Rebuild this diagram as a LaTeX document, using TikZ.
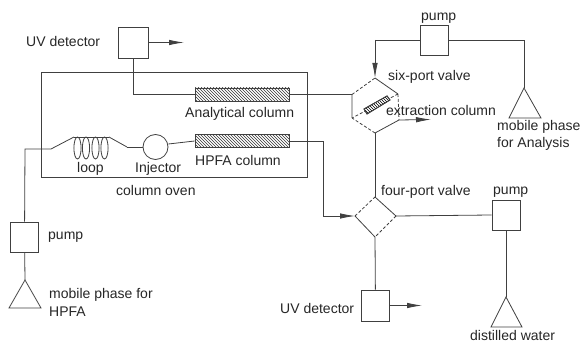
\documentclass[tikz,border=0pt]{standalone}
\usepackage{fontspec}
\setmainfont{Liberation Sans}
\usetikzlibrary{arrows.meta,patterns}
\tikzset{
  x=1pt,y=-1pt,
  ln/.style={draw=black!75,line width=0.8pt},
  flow/.style={ln,-{Latex[length=15pt,width=5.5pt]}},
  unit/.style={draw=black!75,line width=0.8pt,fill=white,minimum width=28pt,minimum height=30pt,inner sep=0pt},
  tri/.style={ln,fill=white},
  col/.style={draw=black!75,line width=0.7pt,pattern=north west lines,pattern color=black!80,minimum width=94pt,minimum height=13pt,inner sep=0pt},
  lab/.style={anchor=west,inner sep=0pt,font=\fontsize{14}{16}\selectfont,text=black!85,align=left},
  dsh/.style={ln,densely dashed}
}
\begin{document}
\begin{tikzpicture}
\useasboundingbox (0,0) rectangle (582,342);
% oven
\draw[ln] (41,72) rectangle (307,177);
\node[lab] (t1) at (26,41) {UV detector};
\node[unit,minimum width=30pt,minimum height=31pt] (uv1) at (133,42.5) {};
\coordinate (uv1e) at (184,42.5);
\draw[flow] (uv1) -- (uv1e);
\node[col] (ac) at (242,94.5) {};
\node[lab] (t2) at (185,114) {Analytical column};
\node[col] (hc) at (242,141) {};
\node[lab] (t3) at (195,160) {HPFA column};
\node[draw=black!75,line width=.8pt,circle,minimum size=25pt,inner sep=0pt] (inj) at (155.5,147) {};
\node[lab] (t4) at (135,169) {Injector};
\node[lab] (t5) at (77,169) {loop};
\node[lab] (t6) at (116,190) {column oven};
% loop
\coordinate (lpa) at (51,149);
\coordinate (lpb) at (74,137);
\coordinate (lpc) at (109,137);
\coordinate (lpd) at (127,147);
\foreach \cx in {77.5,86,95.5,104.5}{\draw[ln] (\cx,148) ellipse (3.6pt and 11pt);}
\draw[ln] (lpb) -- (lpc);
% valves
\coordinate (s1) at (375,78);
\coordinate (s2) at (398,94);
\coordinate (s3) at (399,120);
\coordinate (s4) at (375,133);
\coordinate (s5) at (352,118);
\coordinate (s6) at (352,94.5);
\draw[ln] (s1)--(s2) (s3)--(s4) (s5)--(s6);
\draw[dsh] (s6)--(s1) (s4)--(s5) (s2)--(s5) (s2)--(s3);
\draw[ln,fill=white] (364,109) -- (387,96) -- (390,100) -- (367,114) -- cycle;
\draw[ln,pattern=north west lines] (364,109) -- (387,96) -- (390,100) -- (367,114) -- cycle;
\node[lab] (t7) at (388,77) {six-port valve};
\node[lab] (t8) at (386,110) {extraction column};
\coordinate (d1) at (375,197);
\coordinate (d2) at (396,216);
\coordinate (d3) at (375,237);
\coordinate (d4) at (355,216);
\draw[ln] (d1)--(d2) (d3)--(d4);
\draw[dsh] (d4)--(d1) (d2)--(d3);
\node[lab] (t9) at (381,192) {four-port valve};
% pumps
\node[unit] (p1) at (434,40) {};
\node[lab] (t10) at (421,18) {pump};
\coordinate (p1a) at (375,40);
\draw[ln] (p1.west) -- (p1a);
\draw[flow] (p1a) -- (s1);
\coordinate (tr1) at (524,88);
\coordinate (p1b) at (524,40);
\draw[ln] (p1.east) -- (p1b) -- (tr1);
\draw[tri] (tr1) -- (541,118) -- (509,118) -- cycle;
\node[lab] (t11) at (497,127) {mobile phase};
\node[lab] (t12) at (497,144) {for Analysis};
\draw[flow] (s3) -- (431,119.5);
\node[unit] (p2) at (506,215) {};
\node[lab] (t13) at (493,192) {pump};
\draw[ln] (d2) -- (p2.west);
\coordinate (tr2) at (506,297);
\draw[ln] (p2.south) -- (tr2);
\draw[tri] (tr2) -- (522,327) -- (491,327) -- cycle;
\node[lab] (t14) at (470,335) {distilled water};
\node[unit,minimum height=31pt] (uv2) at (375.5,305.5) {};
\node[lab] (t15) at (280,308) {UV detector};
\coordinate (uv2e) at (422,305.5);
\draw[flow] (uv2) -- (uv2e);
\draw[ln] (s4) -- (d1);
\draw[ln] (d3) -- (uv2);
% connectors
\coordinate (c1) at (133,94.5);
\draw[ln] (uv1) -- (c1) -- (ac.west);
\draw[ln] (ac.east) -- (s6);
\draw[ln] (lpd) -- (143,147);
\draw[ln] (lpc) -- (lpd);
\draw[ln] (inj.east) ++(0,-3) -- (hc.west);
\coordinate (c2) at (323,141);
\coordinate (c3) at (323,216);
\draw[ln] (hc.east) -- (c2) -- (c3);
\draw[flow] (c3) -- (d4);
\node[unit] (p3) at (24.5,237) {};
\node[lab] (t16) at (48,237) {pump};
\coordinate (c4) at (25,149);
\draw[ln] (p3) -- (c4) -- (lpa) -- (lpb);
\coordinate (tr3) at (25,280);
\draw[ln] (p3) -- (tr3);
\draw[tri] (tr3) -- (41,308) -- (9,308) -- cycle;
\node[lab] (t17) at (49,295) {mobile phase for};
\node[lab] (t18) at (49,312) {HPFA};
\end{tikzpicture}
\end{document}
